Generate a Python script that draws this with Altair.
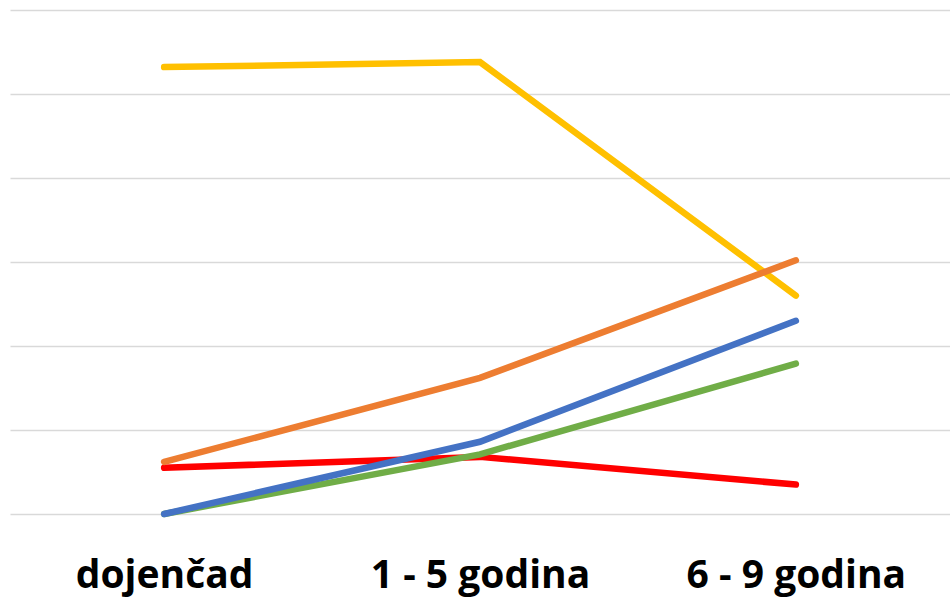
import altair as alt
import pandas as pd

# Age groups on the x axis
categories = ["dojenčad", "1 - 5 godina", "6 - 9 godina"]

# One series per line, drawn bottom to top in this order
series_names = ["A", "B", "C", "D", "E"]
series_colors = ["#FFC000", "#FF0000", "#70AD47", "#4472C4", "#ED7D31"]
values_a = [26.6, 26.9, 13.0]
values_b = [2.75, 3.4, 1.75]
values_c = [0.0, 3.55, 8.95]
values_d = [0.0, 4.3, 11.5]
values_e = [3.1, 8.1, 15.1]
all_values = [values_a, values_b, values_c, values_d, values_e]

rows = []
for name, vals in zip(series_names, all_values):
    for cat, v in zip(categories, vals):
        rows.append({"group": cat, "series": name, "value": v})
df = pd.DataFrame(rows)

x_enc = alt.X(
    "group:N",
    sort=categories,
    scale=alt.Scale(type="point", padding=0.488),
    axis=alt.Axis(
        title=None,
        labelAngle=0,
        labelFont="Open Sans",
        labelFontWeight="bold",
        labelFontSize=39,
        labelColor="#000000",
        labelBaseline="alphabetic",
        labelPadding=73,
        labelLimit=0,
        ticks=False,
        domain=False,
        grid=False,
    ),
)
y_enc = alt.Y(
    "value:Q",
    scale=alt.Scale(domain=[0, 30], nice=False, zero=True),
    axis=alt.Axis(
        title=None,
        values=[0, 5, 10, 15, 20, 25, 30],
        labels=False,
        ticks=False,
        domain=False,
        grid=True,
        gridColor="#d9d9d9",
        gridWidth=1.4,
    ),
)

layers = []
for name, color in zip(series_names, series_colors):
    layers.append(
        alt.Chart(df)
        .transform_filter(alt.datum.series == name)
        .mark_line(color=color, strokeWidth=6.5, strokeCap="round", strokeJoin="miter")
        .encode(x=x_enc, y=y_enc)
    )

chart = (
    alt.layer(*layers)
    .properties(
        width=940,
        height=504,
        autosize=alt.AutoSizeParams(type="none"),
        padding={"left": 10, "top": 10, "right": 0, "bottom": 84},
        background="#ffffff",
    )
    .configure_view(stroke=None)
)

chart.save("out.html", embed_options={"renderer": "svg", "actions": False})
